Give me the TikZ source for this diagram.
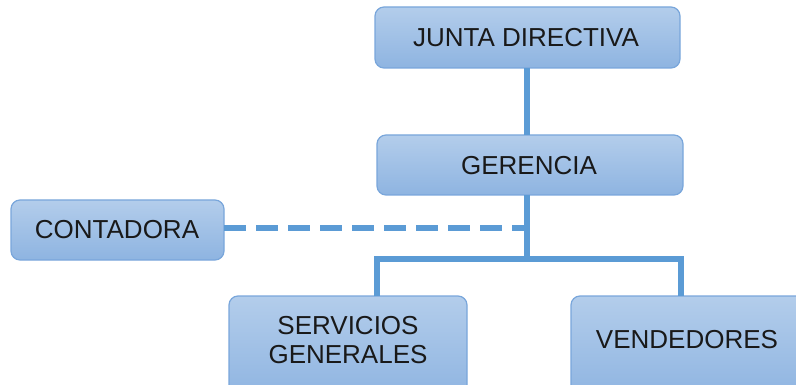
\documentclass[tikz,border=0pt]{standalone}
\usepackage{fontspec}
\setmainfont{Liberation Sans}
\definecolor{boxtop}{HTML}{B3CDEB}
\definecolor{boxbot}{HTML}{8EB4E1}
\definecolor{boxedge}{HTML}{79A6DB}
\definecolor{linkc}{HTML}{5B9BD5}
\begin{document}
\begin{tikzpicture}[x=1pt,y=-1pt,
  orgbox/.style={draw=boxedge, line width=1.2pt, rounded corners=9pt, top color=boxtop, bottom color=boxbot},
  lbl/.style={font=\fontsize{26}{29}\selectfont, text=black!90, align=center},
  link/.style={draw=linkc, line width=5.5pt},
  dlink/.style={draw=linkc, line width=5.5pt, dash pattern=on 22pt off 10pt}]
\useasboundingbox (0,0) rectangle (796,385);
% boxes
\path[orgbox] (375,7) rectangle (680,68);
\node[lbl] (jd) at (526,38) {JUNTA DIRECTIVA};
\coordinate (jdb) at (527,68);
\path[orgbox] (377,135) rectangle (683,195);
\node[lbl] (ge) at (529,166) {GERENCIA};
\coordinate (get) at (527,135);
\coordinate (geb) at (527,195);
\path[orgbox] (11,200) rectangle (224,260);
\node[lbl] (co) at (117,230) {CONTADORA};
\coordinate (cor) at (224,228);
\path[orgbox] (229,296) rectangle (467,400);
\node[lbl] (sg) at (348,340) {SERVICIOS\\GENERALES};
\coordinate (sgt) at (377,296);
\path[orgbox] (571,296) rectangle (810,400);
\node[lbl] (ve) at (687,340) {VENDEDORES};
\coordinate (vet) at (681,296);
% connectors
\coordinate (bus) at (527,259);
\coordinate (dash) at (527,228);
\draw[link] (jdb) -- (get);
\draw[link] (geb) -- (bus);
\draw[link] (sgt) -- (377,259) -- (681,259) -- (vet);
\draw[dlink] (cor) -- (dash);
\end{tikzpicture}
\end{document}
